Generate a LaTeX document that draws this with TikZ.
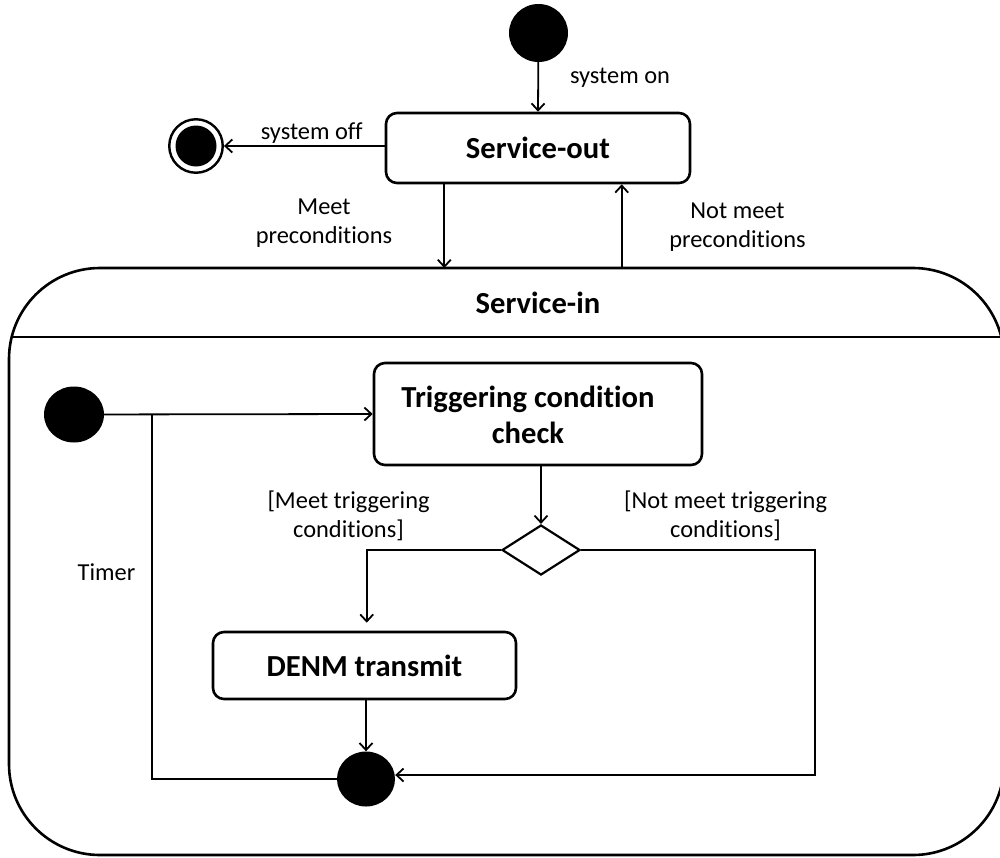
\documentclass[tikz,border=0pt]{standalone}
\usepackage{fontspec}
\setmainfont{Carlito}[Ligatures=NoCommon]
\usetikzlibrary{arrows.meta,shapes.geometric,calc}

\begin{document}
\begin{tikzpicture}[x=1pt,y=-1pt,
  conn/.style={line width=1.8pt},
  arr/.style={conn,-{Straight Barb[length=7pt,width=13pt,line width=1.8pt]}},
  statebox/.style={draw, line width=2.6pt, rounded corners=11pt, inner sep=0pt,
    font=\bfseries\fontsize{30.6}{36.5}\selectfont, align=center},
  dot/.style={fill=black, draw=none, ellipse, inner sep=0pt},
  lbl/.style={font=\fontsize{24.4}{29.5}\selectfont, align=center, inner sep=0pt},
  ttl/.style={font=\bfseries\fontsize{30.6}{36.5}\selectfont, align=center, inner sep=0pt},
]
\useasboundingbox (0,0) rectangle (1000,857);
\clip (0,0) rectangle (1000,857);

% ---------- outer level ----------
\node[dot, minimum width=59pt, minimum height=58pt] (init) at (538.5,33) {};
\node[statebox, minimum width=304pt, minimum height=70pt] (srvout) at (538,148) {Service-out};
\node[draw, circle, line width=2.4pt, minimum size=53.5pt, inner sep=0pt] (fin) at (196,146) {};
\fill (fin.center) circle (20.5pt);

% composite state Service-in
\draw[line width=2.6pt, rounded corners=91pt] (9,268) rectangle (1004,855);
\draw[line width=2.6pt] (11.7,337) -- (1004,337);
\node[ttl] (srvin) at (538,303) {Service-in};

\coordinate (inA) at (444.3,268);
\coordinate (inB) at (621.7,268);

\draw[arr] (init) -- (srvout.north);
\draw[arr] (srvout.west |- fin) -- (fin);
\draw[arr] (srvout.south -| inA) -- (inA);
\draw[arr] (inB) -- (srvout.south -| inB);

\node[lbl] (lon) at (620,78) {system on};
\node[lbl] (loff) at (311.7,133) {system off};
\node[lbl] (lmeet) at (324,223) {Meet\\preconditions};
\node[lbl] (lnmeet) at (737.5,227) {Not meet\\preconditions};

% ---------- inside Service-in ----------
\node[dot, minimum width=60pt, minimum height=56pt] (init2) at (74,414.5) {};
\node[statebox, minimum width=328pt, minimum height=102pt] (tcc) at (538,414) {};
\node[ttl] (tcctxt) at (528,415) {Triggering condition\\check};
\node[draw, diamond, line width=2.2pt, minimum width=78pt, minimum height=50pt, inner sep=0pt] (dec) at (541,550) {};
\node[statebox, minimum width=303pt, minimum height=67pt] (denm) at (364.5,665.5) {DENM transmit};
\node[dot, minimum width=58pt, minimum height=55pt] (fin2) at (366,779) {};

\coordinate (tmrA) at (151.7,414.5);
\coordinate (tmrB) at (151.7,779);
\coordinate (mtA) at (366.7,550);
\coordinate (nmA) at (815,550);
\coordinate (nmB) at (815,775);

\draw[arr] (init2) -- (tcc.west);
\draw[conn] (tmrA) -- (tmrB) -- (fin2.west);
\draw[arr] (tcc.south -| dec) -- (dec.north);
\draw[arr, shorten >=8pt] (dec.west) -- (mtA) -- (denm.north -| mtA);
\draw[arr] (denm.south -| fin2) -- (fin2.north);
\draw[arr] (dec.east) -- (nmA) -- (nmB) -- (nmB -| fin2.east);

\node[lbl] (ltimer) at (106.5,572) {Timer};
\node[lbl] (lmt) at (348.5,516) {[Meet triggering\\conditions]};
\node[lbl] (lnmt) at (725.5,516) {[Not meet triggering\\conditions]};
\end{tikzpicture}
\end{document}
